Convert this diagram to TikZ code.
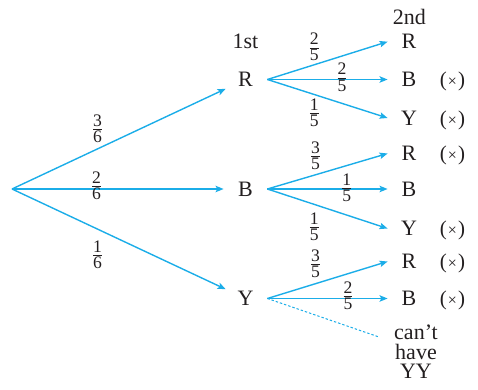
\documentclass[tikz,border=0pt]{standalone}
\usepackage{amsmath}
\usepackage{fontspec}
\setmainfont{Liberation Serif}
\usetikzlibrary{positioning,arrows.meta}
\definecolor{treecyan}{HTML}{1BADE8}
\definecolor{inkgray}{HTML}{231F20}
\newcommand{\fr}[2]{$\frac{\text{\fontsize{8.8}{10}\selectfont #1}}{\text{\fontsize{8.8}{10}\selectfont #2}}$}
\newcommand{\crossed}{(\kern0.6pt{\footnotesize ×}\kern0.6pt)}

\begin{document}
\begin{tikzpicture}[
    x=0.5pt, y=-0.5pt,
    every node/.style={text=inkgray, font=\fontsize{11}{12}\selectfont},
    pick1/.style={circle, inner sep=0pt, minimum size=21.5pt},
    pick2/.style={rectangle, inner sep=0pt, minimum width=21pt, minimum height=14pt},
    frac/.style={inner sep=0pt},
    crossmark/.style={inner sep=0pt, font=\fontsize{10.5}{12}\selectfont},
    branch/.style={-{Stealth[length=4pt,width=3.2pt,inset=0.8pt]}, line width=0.7pt, treecyan},
    missing/.style={treecyan, line width=0.5pt, dash pattern=on 1.2pt off 1pt}
]
\useasboundingbox (0,0) rectangle (478,390);

\coordinate (root) at (12,189);
\node[pick1] (R1) at (245.5,79.5)  {R};
\node[pick1] (B1) at (245.5,189)   {B};
\node[pick1] (Y1) at (245.5,298.5) {Y};
\node (st) at (245.5,41) {1st};
\node (nd) at (409.5,16.5) {2nd};

\node[pick2] (RR) at (409,41.7)  {R};
\node[pick2] (RB) at (409,79.5)  {B};
\node[pick2] (RY) at (409,118)   {Y};
\node[pick2] (BR) at (409,153.5) {R};
\node[pick2] (BB) at (409,189)   {B};
\node[pick2] (BY) at (409,228.5) {Y};
\node[pick2] (YR) at (409,261.5) {R};
\node[pick2] (YB) at (409,298.5) {B};
\coordinate (noYY) at (379,337);
\node[align=center, font=\fontsize{11}{9.8}\selectfont] (YY) at (416,352) {can’t\\have\\YY};

\node[crossmark, base right=4.5pt of RB] (xRB) {\crossed};
\node[crossmark, base right=4.5pt of RY] (xRY) {\crossed};
\node[crossmark, base right=4.5pt of BR] (xBR) {\crossed};
\node[crossmark, base right=4.5pt of BY] (xBY) {\crossed};
\node[crossmark, base right=4.5pt of YR] (xYR) {\crossed};
\node[crossmark, base right=4.5pt of YB] (xYB) {\crossed};

\draw[branch] (root) -- node[frac, pos=0.4, yshift=10pt]   {\fr{3}{6}} (R1);
\draw[branch] (root) -- node[frac, pos=0.4, yshift=1.5pt]  {\fr{2}{6}} (B1);
\draw[branch] (root) -- node[frac, pos=0.4, yshift=-12.8pt] {\fr{1}{6}} (Y1);

\draw[branch] (R1.east) -- node[frac, pos=0.39, yshift=8.8pt]  {\fr{2}{5}} (RR.west);
\draw[branch] (R1.east) -- node[frac, pos=0.62, yshift=1.1pt]  {\fr{2}{5}} (RB.west);
\draw[branch] (R1.east) -- node[frac, pos=0.39, yshift=-9.1pt] {\fr{1}{5}} (RY.west);

\draw[branch] (B1.east) -- node[frac, pos=0.4, yshift=9.4pt]    {\fr{3}{5}} (BR.west);
\draw[branch] (B1.east) -- node[frac, pos=0.66, yshift=0.75pt]  {\fr{1}{5}} (BB.west);
\draw[branch] (B1.east) -- node[frac, pos=0.39, yshift=-11.3pt] {\fr{1}{5}} (BY.west);

\draw[branch] (Y1.east) -- node[frac, pos=0.4, yshift=9.8pt]   {\fr{3}{5}} (YR.west);
\draw[branch] (Y1.east) -- node[frac, pos=0.67, yshift=1.25pt] {\fr{2}{5}} (YB.west);
\draw[missing] (Y1.east) -- (noYY);
\end{tikzpicture}
\end{document}
